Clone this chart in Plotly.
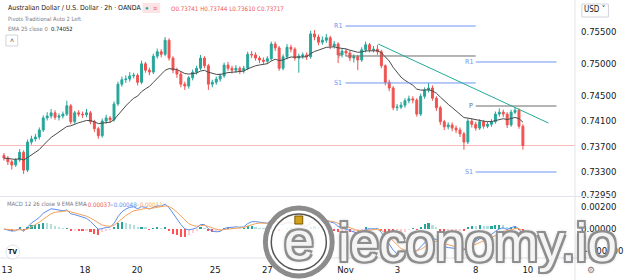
import plotly.graph_objects as go
import pandas as pd

# ---------------- data ----------------
first_open = 0.7356
closes = [0.7352, 0.7346, 0.7341, 0.7349, 0.7361, 0.7333, 0.7377, 0.7382, 0.7385, 0.7396,
          0.7415, 0.7418, 0.7423, 0.7416, 0.7418, 0.7421, 0.7434, 0.7409, 0.7423, 0.7421,
          0.7420, 0.7423, 0.7409, 0.7398, 0.7387, 0.7410, 0.7415, 0.7412, 0.7437, 0.7468,
          0.7475, 0.7476, 0.7481, 0.7482, 0.7471, 0.7500, 0.7490, 0.7487, 0.7512, 0.7519,
          0.7515, 0.7537, 0.7509, 0.7490, 0.7484, 0.7468, 0.7465, 0.7478, 0.7487, 0.7493,
          0.7509, 0.7497, 0.7468, 0.7471, 0.7476, 0.7481, 0.7498, 0.7493, 0.7490, 0.7493,
          0.7489, 0.7493, 0.7515, 0.7514, 0.7509, 0.7506, 0.7504, 0.7508, 0.7531, 0.7525,
          0.7493, 0.7511, 0.7526, 0.7523, 0.7509, 0.7512, 0.7514, 0.7511, 0.7547, 0.7542,
          0.7534, 0.7537, 0.7541, 0.7528, 0.7531, 0.7514, 0.7520, 0.7517, 0.7509, 0.7511,
          0.7506, 0.7522, 0.7530, 0.7522, 0.7523, 0.7519, 0.7497, 0.7471, 0.7462, 0.7431,
          0.7432, 0.7435, 0.7442, 0.7445, 0.7443, 0.7421, 0.7449, 0.7459, 0.7462, 0.7446,
          0.7431, 0.7409, 0.7401, 0.7404, 0.7399, 0.7396, 0.7390, 0.7377, 0.7410, 0.7405,
          0.7399, 0.7409, 0.7402, 0.7405, 0.7409, 0.7421, 0.7424, 0.7421, 0.7404, 0.7424,
          0.7427, 0.7402, 0.73717]
highs = [0.7360, 0.7355, 0.7349, 0.7352, 0.7366, 0.7364, 0.7381, 0.7387, 0.7390, 0.7400,
         0.7419, 0.7424, 0.7429, 0.7427, 0.7422, 0.7425, 0.7442, 0.7437, 0.7426, 0.7427,
         0.7425, 0.7429, 0.7426, 0.7412, 0.7401, 0.7414, 0.7420, 0.7418, 0.7441, 0.7472,
         0.7480, 0.7482, 0.7487, 0.7486, 0.7485, 0.7505, 0.7503, 0.7494, 0.7516, 0.7524,
         0.7523, 0.7542, 0.7540, 0.7512, 0.7494, 0.7488, 0.7472, 0.7481, 0.7491, 0.7497,
         0.7514, 0.7512, 0.7500, 0.7475, 0.7480, 0.7485, 0.7502, 0.7503, 0.7497, 0.7498,
         0.7496, 0.7497, 0.7519, 0.7520, 0.7518, 0.7512, 0.7510, 0.7512, 0.7535, 0.7535,
         0.7528, 0.7515, 0.7531, 0.7530, 0.7526, 0.7516, 0.7518, 0.7518, 0.7552, 0.7553,
         0.7546, 0.7543, 0.7547, 0.7544, 0.7536, 0.7534, 0.7524, 0.7524, 0.7521, 0.7515,
         0.7514, 0.7526, 0.7535, 0.7533, 0.7528, 0.7530, 0.7522, 0.7499, 0.7475, 0.7465,
         0.7437, 0.7440, 0.7446, 0.7450, 0.7449, 0.7446, 0.7453, 0.7463, 0.7470, 0.7466,
         0.7449, 0.7434, 0.7412, 0.7408, 0.7408, 0.7403, 0.7400, 0.7393, 0.7414, 0.7414,
         0.7409, 0.7413, 0.7412, 0.7409, 0.7413, 0.7425, 0.7430, 0.7428, 0.7424, 0.7428,
         0.7432, 0.7430, 0.7405]
lows = [0.7348, 0.7341, 0.7334, 0.7338, 0.7346, 0.7327, 0.7330, 0.7373, 0.7378, 0.7381,
        0.7393, 0.7411, 0.7414, 0.7412, 0.7411, 0.7414, 0.7418, 0.7405, 0.7406, 0.7417,
        0.7415, 0.7416, 0.7405, 0.7393, 0.7382, 0.7384, 0.7406, 0.7407, 0.7409, 0.7434,
        0.7464, 0.7470, 0.7472, 0.7477, 0.7466, 0.7468, 0.7486, 0.7482, 0.7484, 0.7508,
        0.7510, 0.7512, 0.7505, 0.7485, 0.7478, 0.7463, 0.7459, 0.7461, 0.7474, 0.7483,
        0.7490, 0.7493, 0.7459, 0.7463, 0.7467, 0.7472, 0.7478, 0.7489, 0.7485, 0.7486,
        0.7484, 0.7485, 0.7490, 0.7509, 0.7505, 0.7501, 0.7500, 0.7500, 0.7505, 0.7520,
        0.7489, 0.7490, 0.7507, 0.7518, 0.7505, 0.7486, 0.7508, 0.7506, 0.7508, 0.7537,
        0.7529, 0.7530, 0.7533, 0.7523, 0.7524, 0.7501, 0.7510, 0.7512, 0.7504, 0.7502,
        0.7490, 0.7503, 0.7518, 0.7518, 0.7518, 0.7514, 0.7493, 0.7466, 0.7457, 0.7427,
        0.7426, 0.7429, 0.7431, 0.7438, 0.7438, 0.7417, 0.7418, 0.7445, 0.7455, 0.7442,
        0.7426, 0.7404, 0.7396, 0.7397, 0.7394, 0.7391, 0.7385, 0.7365, 0.7374, 0.7400,
        0.7395, 0.7396, 0.7398, 0.7399, 0.7401, 0.7406, 0.7417, 0.7416, 0.7399, 0.7401,
        0.7421, 0.7398, 0.7365]

tick_labels = ["13", "18", "20", "25", "27", "Nov", "3", "8", "10"]
tick_trading_days = [0, 3, 5, 8, 10, 13, 15, 18, 20]

price_ticks = [0.76000, 0.75500, 0.75000, 0.74500, 0.74100, 0.73700, 0.73300, 0.72950]
macd_ticks = [0.002, 0.0, -0.002]

# weekly traditional pivots (two weeks shown)
pivot_start_day = [13, 18]
pivot_end_day = [18, 21.1]
pivot_R1 = [0.75594, 0.75029]
pivot_P = [0.75123, 0.74337]
pivot_S1 = [0.74699, 0.73300]

# hand-drawn descending trendline
trend_days = [14.26, 20.79]
trend_prices = [0.75311, 0.74070]

title_text = "Australian Dollar / U.S. Dollar · 2h · OANDA"
ohlc_text = "O0.73741 H0.73744 L0.73610 C0.73717"
ema_text = "EMA 25 close 0"
ema_value_text = "0.74052"
macd_text = "MACD 12 26 close 9 EMA EMA"
macd_vals_text = ["−0.00037", "−0.00048", "−0.00011"]

# ---------------- derived ----------------
N = len(closes)
idx = list(range(N))
opens = [first_open] + closes[:-1]
CANDLES_PER_DAY = 6.625
DAY0 = 0.75
def day_to_idx(d):
    return DAY0 + d * CANDLES_PER_DAY

# each drawn candle covers ~1.8 of the source 2h bars
BAR_RATIO = 0.55
s = pd.Series(closes)
ema25 = s.ewm(span=25 * BAR_RATIO, adjust=False).mean()
fast = s.ewm(span=12 * BAR_RATIO, adjust=False).mean()
slow = s.ewm(span=26 * BAR_RATIO, adjust=False).mean()
macd = fast - slow
signal = macd.ewm(span=9 * BAR_RATIO, adjust=False).mean()
hist = macd - signal
hist_colors = []
prev = 0.0
for h in hist:
    if h >= 0:
        hist_colors.append("#26a69a" if h >= prev else "#b2dfdb")
    else:
        hist_colors.append("#ff5252" if h <= prev else "#ffcdd2")
    prev = h

# ---------------- layout geometry ----------------
W, H = 624, 280
ML, MR, MT, MB = 0, 39, 0, 22
PW = W - ML - MR
PH = H - MT - MB
def px(x):
    return (x - ML) / PW
def py(y):
    return (H - MB - y) / PH

main_top_px, main_bot_px = 0, 196
macd_top_px, macd_bot_px = 197, 258
price_range = [0.755 - (main_bot_px - 32) / 6364, 0.755 - (main_top_px - 32) / 6364]
macd_range = [-(macd_bot_px - 229) / 11000, (229 - macd_top_px) / 11000]
x_range = [-1, -1 + PW / 4]

FONT = "Liberation Sans Narrow, DejaVu Sans Condensed, Roboto Condensed, Arial Narrow, Roboto, sans-serif"
TXT = "#131722"
UP, DOWN = "#26a69a", "#ef5350"

fig = go.Figure()
fig.add_trace(go.Candlestick(
    x=idx, open=opens, high=highs, low=lows, close=closes,
    increasing=dict(line=dict(color=UP, width=1), fillcolor=UP),
    decreasing=dict(line=dict(color=DOWN, width=1), fillcolor=DOWN),
    whiskerwidth=0, hoverinfo="skip", xaxis="x", yaxis="y", showlegend=False))
fig.add_trace(go.Scatter(x=idx, y=ema25, mode="lines", line=dict(color="#4a4a4a", width=1),
                         hoverinfo="skip", xaxis="x", yaxis="y", showlegend=False))
fig.add_trace(go.Bar(x=idx, y=hist, marker=dict(color=hist_colors, line=dict(width=0)), width=0.55,
                     hoverinfo="skip", xaxis="x2", yaxis="y2", showlegend=False))
fig.add_trace(go.Scatter(x=idx, y=macd, mode="lines", line=dict(color="#5b8def", width=1),
                         hoverinfo="skip", xaxis="x2", yaxis="y2", showlegend=False))
fig.add_trace(go.Scatter(x=idx, y=signal, mode="lines", line=dict(color="#f7a35c", width=1),
                         hoverinfo="skip", xaxis="x2", yaxis="y2", showlegend=False))

shapes = []
annotations = []
# pivot lines
BLUE = "#6f93f2"
for k in range(len(pivot_R1)):
    x0 = day_to_idx(pivot_start_day[k]); x1 = day_to_idx(pivot_end_day[k])
    for lvl, col, lab in ((pivot_R1[k], BLUE, "R1"), (pivot_P[k], "#6b6b6b", "P"), (pivot_S1[k], BLUE, "S1")):
        shapes.append(dict(type="line", xref="x", yref="y", x0=x0, x1=x1, y0=lvl, y1=lvl,
                           line=dict(color=col, width=1)))
        annotations.append(dict(xref="x", yref="y", x=x0, y=lvl, text=lab, showarrow=False,
                                xanchor="right", xshift=-1, font=dict(family=FONT, size=7, color=col)))
# trendline
shapes.append(dict(type="line", xref="x", yref="y", x0=day_to_idx(trend_days[0]), x1=day_to_idx(trend_days[1]),
                   y0=trend_prices[0], y1=trend_prices[1], line=dict(color="#22ab94", width=1)))
# last price line
shapes.append(dict(type="line", xref="paper", yref="y", x0=0, x1=1, y0=closes[-1], y1=closes[-1],
                   line=dict(color="#f7b9b9", width=1), layer="below"))
# frame lines
shapes.append(dict(type="line", xref="paper", yref="paper", x0=1, x1=1, y0=py(H), y1=py(0),
                   line=dict(color="#e0e3eb", width=1)))
shapes.append(dict(type="line", xref="paper", yref="paper", x0=0, x1=px(W), y0=py(196.5), y1=py(196.5),
                   line=dict(color="#e0e3eb", width=1)))
shapes.append(dict(type="line", xref="paper", yref="paper", x0=0, x1=px(W), y0=py(258), y1=py(258),
                   line=dict(color="#e0e3eb", width=1)))

# header texts
annotations += [
    dict(x=px(6), y=py(8), text=title_text, font=dict(family=FONT, size=6.9, color=TXT)),
    dict(x=px(6), y=py(19), text="Pivots Traditional Auto 2 Left", font=dict(family=FONT, size=5.7, color="#787b86")),
    dict(x=px(6), y=py(29), text=ema_text + "  <span style='color:#131722'>" + ema_value_text + "</span>",
         font=dict(family=FONT, size=5.8, color="#787b86")),
    dict(x=px(172), y=py(8), text=ohlc_text, font=dict(family=FONT, size=6.2, color="#ef5350")),
    dict(x=px(5), y=py(204), text=macd_text, font=dict(family=FONT, size=5.9, color="#787b86")),
    dict(x=px(82), y=py(204), text=macd_vals_text[0], font=dict(family=FONT, size=6.2, color="#ef5350")),
    dict(x=px(109), y=py(204), text=macd_vals_text[1], font=dict(family=FONT, size=6.2, color="#5b8def")),
    dict(x=px(135), y=py(204), text=macd_vals_text[2], font=dict(family=FONT, size=6.2, color="#f7a35c")),
]
for a in annotations[-8:]:
    a.update(xref="paper", yref="paper", xanchor="left", yanchor="middle", showarrow=False)

# small header icons
shapes.append(dict(type="rect", xref="paper", yref="paper", x0=px(145), x1=px(163), y0=py(13), y1=py(3),
                   fillcolor="#fce4e6", line=dict(width=0)))
annotations += [
    dict(x=px(150), y=py(8), text="●", font=dict(size=6, color="#26a69a")),
    dict(x=px(158), y=py(8), text="≡", font=dict(size=7, color="#ef5350")),
    dict(x=px(12), y=py(41), text="˄", font=dict(size=7, color="#555")),
    dict(x=px(605), y=py(10), text="USD ˅", font=dict(family=FONT, size=8, color=TXT)),
    dict(x=px(13), y=py(252), text="<b>TV</b>", font=dict(family=FONT, size=7, color="#131722")),
    dict(x=px(601), y=py(270), text="⚙", font=dict(family="DejaVu Sans", size=9, color="#787b86")),
]
for a in annotations[-6:]:
    a.update(xref="paper", yref="paper", xanchor="center", yanchor="middle", showarrow=False)
shapes.append(dict(type="rect", xref="paper", yref="paper", x0=px(6), x1=px(18), y0=py(46), y1=py(35),
                   line=dict(color="#d1d4dc", width=1)))
shapes.append(dict(type="rect", xref="paper", yref="paper", x0=px(592), x1=px(619), y0=py(17), y1=py(4),
                   line=dict(color="#d1d4dc", width=1), fillcolor="white"))
shapes.append(dict(type="circle", xref="paper", yref="paper", x0=px(6), x1=px(20), y0=py(259), y1=py(245),
                   line=dict(color="#e0e3eb", width=1), fillcolor="white"))

# watermark logo
OUT = ("-2px -2px 0 #8e8e8e, 2px -2px 0 #8e8e8e, -2px 2px 0 #8e8e8e, 2px 2px 0 #8e8e8e, "
       "0 2px 0 #8e8e8e, 0 -2px 0 #8e8e8e, 0 0 4px #555")
shapes.append(dict(type="circle", xref="paper", yref="paper", x0=px(270), x1=px(338), y0=py(276), y1=py(208),
                   line=dict(color="#8c8c8c", width=5), fillcolor="rgba(255,255,255,0.85)", layer="above"))
shapes.append(dict(type="circle", xref="paper", yref="paper", x0=px(276), x1=px(332), y0=py(270), y1=py(214),
                   line=dict(color="#555", width=1.5), layer="above"))
shapes.append(dict(type="rect", xref="paper", yref="paper", x0=px(300), x1=px(308), y0=py(224), y1=py(216),
                   fillcolor="#d4a017", line=dict(color="#7a5a00", width=1), layer="above"))
annotations += [
    dict(x=px(304), y=py(240), text="e", font=dict(family="Liberation Sans", size=54, color="#f4f4f4", shadow=OUT)),
    dict(x=px(342), y=py(242), text="ieconomy.io", xanchor="left",
         font=dict(family="Liberation Sans", size=53, color="#f4f4f4", shadow=OUT)),
]
for a in annotations[-2:]:
    a.update(xref="paper", yref="paper", yanchor="middle", showarrow=False)
    a.setdefault("xanchor", "center")

fig.update_layout(
    width=W, height=H, margin=dict(l=ML, r=MR, t=MT, b=MB),
    paper_bgcolor="white", plot_bgcolor="white", showlegend=False,
    shapes=shapes, annotations=annotations, bargap=0,
    xaxis=dict(domain=[0, 1], range=x_range, anchor="y", matches="x2", showticklabels=False,
               showgrid=False, zeroline=False, rangeslider=dict(visible=False), fixedrange=True),
    xaxis2=dict(domain=[0, 1], range=x_range, anchor="y2", showgrid=False, zeroline=False,
                tickvals=[day_to_idx(d) for d in tick_trading_days], ticktext=tick_labels,
                tickfont=dict(family=FONT, size=9.5, color=TXT), ticks="", ticklabelstandoff=4,
                rangeslider=dict(visible=False)),
    yaxis=dict(domain=[py(main_bot_px), 1], range=price_range, side="right", showgrid=False, zeroline=False,
               tickvals=price_ticks, ticktext=[f"{v:.5f}" for v in price_ticks], ticks="",
               tickfont=dict(family=FONT, size=9.5, color=TXT), ticklabelstandoff=5),
    yaxis2=dict(domain=[0, py(macd_top_px)], range=macd_range, side="right", showgrid=False, zeroline=False,
                tickvals=macd_ticks, ticktext=["0.00200", "0.00000", "−0.00200"], ticks="",
                tickfont=dict(family=FONT, size=9.5, color=TXT), ticklabelstandoff=5),
)
fig.write_html("out.html")
